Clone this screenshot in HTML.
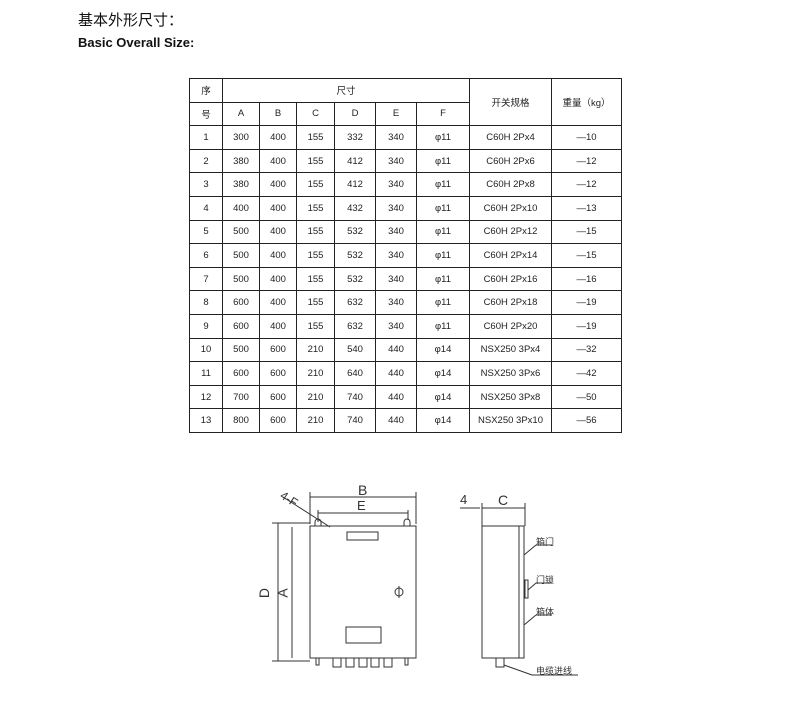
<!DOCTYPE html>
<html><head><meta charset="utf-8"><style>
body{margin:0;background:#fff;width:792px;height:711px;position:relative;font-family:"Liberation Sans","Noto Sans CJK SC",sans-serif;}
.t1{position:absolute;left:78px;top:9px;font-size:15px;color:#111;}
.t2{position:absolute;left:78px;top:35px;font-size:13px;font-weight:bold;color:#111;}
table{position:absolute;left:189px;top:78px;border-collapse:collapse;font-size:9.5px;color:#222;}
td{border:1px solid #222;text-align:center;padding:0;height:22.6px;}
</style></head><body>
<div class="t1">基本外形尺寸：</div>
<div class="t2">Basic Overall Size:</div>
<table>
<colgroup><col style="width:33px"><col style="width:37px"><col style="width:37px"><col style="width:38px"><col style="width:41px"><col style="width:41px"><col style="width:53px"><col style="width:82px"><col style="width:70px"></colgroup>
<tr><td>序</td><td colspan="6">尺寸</td><td rowspan="2">开关规格</td><td rowspan="2">重量（kg）</td></tr>
<tr><td>号</td><td>A</td><td>B</td><td>C</td><td>D</td><td>E</td><td>F</td></tr>
<tr><td>1</td><td>300</td><td>400</td><td>155</td><td>332</td><td>340</td><td>φ11</td><td>C60H 2Px4</td><td>—10</td></tr>
<tr><td>2</td><td>380</td><td>400</td><td>155</td><td>412</td><td>340</td><td>φ11</td><td>C60H 2Px6</td><td>—12</td></tr>
<tr><td>3</td><td>380</td><td>400</td><td>155</td><td>412</td><td>340</td><td>φ11</td><td>C60H 2Px8</td><td>—12</td></tr>
<tr><td>4</td><td>400</td><td>400</td><td>155</td><td>432</td><td>340</td><td>φ11</td><td>C60H 2Px10</td><td>—13</td></tr>
<tr><td>5</td><td>500</td><td>400</td><td>155</td><td>532</td><td>340</td><td>φ11</td><td>C60H 2Px12</td><td>—15</td></tr>
<tr><td>6</td><td>500</td><td>400</td><td>155</td><td>532</td><td>340</td><td>φ11</td><td>C60H 2Px14</td><td>—15</td></tr>
<tr><td>7</td><td>500</td><td>400</td><td>155</td><td>532</td><td>340</td><td>φ11</td><td>C60H 2Px16</td><td>—16</td></tr>
<tr><td>8</td><td>600</td><td>400</td><td>155</td><td>632</td><td>340</td><td>φ11</td><td>C60H 2Px18</td><td>—19</td></tr>
<tr><td>9</td><td>600</td><td>400</td><td>155</td><td>632</td><td>340</td><td>φ11</td><td>C60H 2Px20</td><td>—19</td></tr>
<tr><td>10</td><td>500</td><td>600</td><td>210</td><td>540</td><td>440</td><td>φ14</td><td>NSX250 3Px4</td><td>—32</td></tr>
<tr><td>11</td><td>600</td><td>600</td><td>210</td><td>640</td><td>440</td><td>φ14</td><td>NSX250 3Px6</td><td>—42</td></tr>
<tr><td>12</td><td>700</td><td>600</td><td>210</td><td>740</td><td>440</td><td>φ14</td><td>NSX250 3Px8</td><td>—50</td></tr>
<tr><td>13</td><td>800</td><td>600</td><td>210</td><td>740</td><td>440</td><td>φ14</td><td>NSX250 3Px10</td><td>—56</td></tr>
</table>
<svg width="792" height="711" style="position:absolute;left:0;top:0" stroke="#333" fill="none" stroke-width="1">
<!-- front -->
<rect x="310" y="526" width="106" height="132"/>
<rect x="347" y="532" width="31" height="8"/>
<rect x="346" y="627" width="35" height="16"/>
<circle cx="399" cy="592" r="4"/><line x1="399" y1="586" x2="399" y2="598"/>
<path d="M315 526 v-4 a3 3 0 0 1 6 0 v4 M404 526 v-4 a3 3 0 0 1 6 0 v4"/>
<line x1="310" y1="497" x2="416" y2="497"/><line x1="310" y1="492" x2="310" y2="524"/><line x1="416" y1="492" x2="416" y2="524"/>
<line x1="318" y1="513" x2="408" y2="513"/><line x1="318" y1="510" x2="318" y2="522"/><line x1="408" y1="510" x2="408" y2="520"/>
<line x1="283" y1="497" x2="330" y2="527"/>
<line x1="278" y1="523" x2="278" y2="661"/><line x1="272" y1="523" x2="310" y2="523"/><line x1="272" y1="661" x2="310" y2="661"/>
<line x1="292" y1="527" x2="292" y2="658"/>
<g><rect x="333" y="658" width="8" height="9"/><rect x="346" y="658" width="8" height="9"/><rect x="359" y="658" width="8" height="9"/><rect x="371" y="658" width="8" height="9"/><rect x="384" y="658" width="8" height="9"/></g>
<path d="M316 658 v7 h3 v-7 M405 658 v7 h3 v-7"/>
<!-- side -->
<rect x="482" y="526" width="37" height="132"/>
<rect x="519" y="526" width="5" height="132"/>
<rect x="525" y="580" width="3" height="18"/>
<rect x="496" y="658" width="8" height="9"/>
<line x1="482" y1="508" x2="525" y2="508"/><line x1="482" y1="503" x2="482" y2="530"/><line x1="525" y1="503" x2="525" y2="526"/>
<line x1="460" y1="508" x2="480" y2="508"/>
<line x1="524" y1="555" x2="536" y2="545"/><line x1="536" y1="545" x2="552" y2="545"/>
<line x1="528" y1="590" x2="536" y2="583"/><line x1="536" y1="583" x2="552" y2="583"/>
<line x1="524" y1="625" x2="536" y2="615"/><line x1="536" y1="615" x2="552" y2="615"/>
<line x1="504" y1="665" x2="532" y2="675"/><line x1="532" y1="675" x2="578" y2="675"/>
</svg>
<div style="position:absolute;left:358px;top:482px;font-size:14px;color:#333">B</div>
<div style="position:absolute;left:357px;top:498px;font-size:13px;color:#333">E</div>
<div style="position:absolute;left:280px;top:492px;font-size:12px;color:#333;transform:rotate(33deg)">4-F</div>
<div style="position:absolute;left:259px;top:585px;font-size:14px;color:#333;transform:rotate(-90deg)">D</div>
<div style="position:absolute;left:278px;top:585px;font-size:14px;color:#333;transform:rotate(-90deg)">A</div>
<div style="position:absolute;left:460px;top:492px;font-size:13px;color:#333">4</div>
<div style="position:absolute;left:498px;top:492px;font-size:14px;color:#333">C</div>
<div style="position:absolute;left:536px;top:535px;font-size:9px;color:#333">箱门</div>
<div style="position:absolute;left:536px;top:573px;font-size:9px;color:#333">门锁</div>
<div style="position:absolute;left:536px;top:605px;font-size:9px;color:#333">箱体</div>
<div style="position:absolute;left:536px;top:664px;font-size:9px;color:#333">电缆进线</div>
</body></html>
